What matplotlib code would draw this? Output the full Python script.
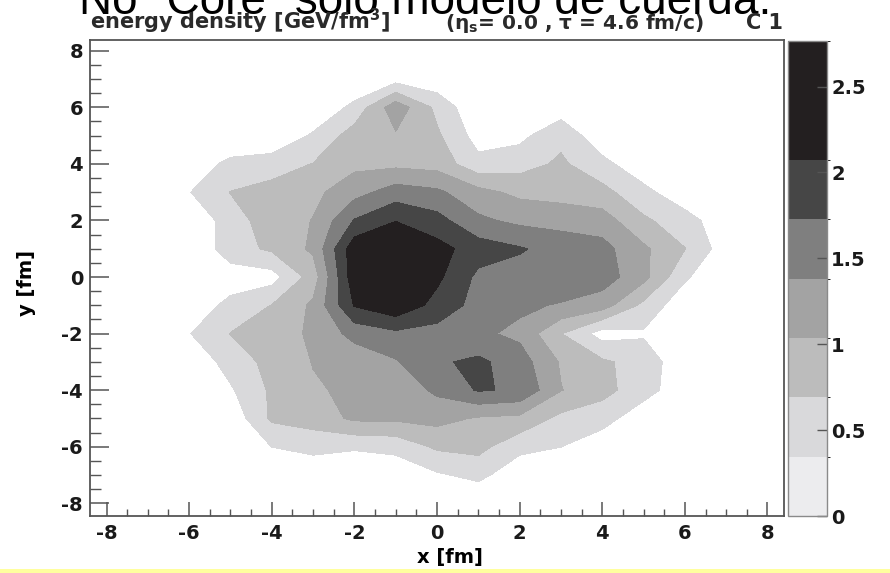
import numpy as np
import matplotlib
matplotlib.use("Agg")
import matplotlib.pyplot as plt
import matplotlib.cm as cm
from matplotlib.colors import ListedColormap, BoundaryNorm
from matplotlib.ticker import MultipleLocator

# grid of the map in fm; rows are listed from y = 8 (top) down to y = -8
x_fm = np.arange(-8, 9)
y_fm = np.arange(8, -9, -1)

# energy density [GeV/fm^3], one row per y value (x = -8 ... 8)
row_p8 = [0, 0, 0, 0, 0, 0, 0, 0, 0, 0, 0, 0, 0, 0, 0, 0, 0]
row_p7 = [0, 0, 0, 0, 0, 0, 0, .2, .1, 0, 0, 0, 0, 0, 0, 0, 0]
row_p6 = [0, 0, 0, 0, 0, 0, .45, 1.25, .6, .05, 0, .15, 0, 0, 0, 0, 0]
row_p5 = [0, 0, 0, 0, 0, .4, .85, 1.0, .75, .2, .25, .6, .1, 0, 0, 0, 0]
row_p4 = [0, 0, .1, .45, .55, .7, .95, .95, .9, .45, .55, .75, .45, .1, 0, 0, 0]
row_p3 = [0, 0, .33, .7, .8, .95, 1.25, 1.55, 1.45, 1.15, .95, .9, .8, .45, .1, 0, 0]
row_p2 = [0, 0, 0, .55, .85, 1.05, 1.75, 2.05, 1.85, 1.45, 1.3, 1.25, 1.2, .75, .5, .1, 0]
row_p1 = [0, 0, 0, .55, .75, 1.1, 2.3, 2.76, 2.2, 1.9, 1.76, 1.6, 1.5, 1.1, .7, .15, 0]
row_00 = [0, 0, 0, .15, .2, .85, 2.3, 2.7, 2.15, 1.65, 1.6, 1.65, 1.55, 1.15, .4, 0, 0]
row_m1 = [0, 0, .1, .45, .7, 1.1, 2.1, 2.35, 1.95, 1.6, 1.45, 1.35, 1.2, .6, .1, 0, 0]
row_m2 = [0, 0, .33, .7, .85, 1.1, 1.5, 1.65, 1.6, 1.45, 1.3, .7, .2, .3, .05, 0, 0]
row_m3 = [0, 0, .05, .5, .8, 1.05, 1.15, 1.35, 1.68, 1.8, 1.55, 1.0, .75, .55, .1, 0, 0]
row_m4 = [0, 0, 0, .3, .75, 1.0, 1.1, 1.15, 1.45, 1.76, 1.68, 1.05, .8, .5, .1, 0, 0]
row_m5 = [0, 0, 0, .1, .75, .85, 1.1, 1.1, 1.15, 1.0, .95, .6, .5, .1, 0, 0, 0]
row_m6 = [0, 0, 0, 0, .35, .45, .4, .45, .75, .8, .45, .35, .1, 0, 0, 0, 0]
row_m7 = [0, 0, 0, 0, 0, .1, 0, .1, .3, .45, .1, 0, 0, 0, 0, 0, 0]
row_m8 = [0, 0, 0, 0, 0, 0, 0, 0, 0, 0, 0, 0, 0, 0, 0, 0, 0]

energy = np.array([row_p8, row_p7, row_p6, row_p5, row_p4, row_p3, row_p2, row_p1, row_00,
                   row_m1, row_m2, row_m3, row_m4, row_m5, row_m6, row_m7, row_m8])

# contour levels and grey shades (as in the colour scale)
levels = [0, 0.3456, 0.6912, 1.0368, 1.3824, 1.728, 2.0736, 2.765]
shades = ['#ececee', '#d9d9db', '#bcbcbc', '#a3a3a3', '#7f7f7f', '#464646', '#231f20']
cbar_ticks = [0, 0.5, 1, 1.5, 2, 2.5]
axis_ticks = [-8, -6, -4, -2, 0, 2, 4, 6, 8]

W, H = 890, 573
fig = plt.figure(figsize=(W / 100, H / 100), dpi=100)
fig.patch.set_facecolor('white')

ax = fig.add_axes([90 / W, 1 - 516 / H, (784 - 90) / W, (516 - 40) / H])
cax = fig.add_axes([788 / W, 1 - 516 / H, (827 - 788) / W, (516 - 41) / H])

# lowest band is not filled, like in the original
ax.contourf(x_fm, y_fm, energy, levels=levels[1:], colors=shades[1:])
ax.set_xlim(-8.4, 8.4)
ax.set_ylim(-8.45, 8.38)

frame_col = '#555555'
for sp in ax.spines.values():
    sp.set_color(frame_col)
    sp.set_linewidth(1.3)
ax.set_xticks(axis_ticks)
ax.set_yticks(axis_ticks)
ax.xaxis.set_minor_locator(MultipleLocator(0.5))
ax.yaxis.set_minor_locator(MultipleLocator(0.5))
ax.tick_params(axis='x', which='major', direction='in', length=10, width=1.1, color=frame_col, pad=6)
ax.tick_params(axis='x', which='minor', direction='in', length=5, width=1.0, color=frame_col)
ax.tick_params(axis='y', which='major', direction='in', length=14, width=1.1, color=frame_col, pad=5)
ax.tick_params(axis='y', which='minor', direction='in', length=8, width=1.0, color=frame_col)
ax.set_xticklabels([str(t) for t in axis_ticks], fontsize=14, fontweight='bold', color='#1a1a1a')
ax.set_yticklabels([str(t) for t in axis_ticks], fontsize=14, fontweight='bold', color='#1a1a1a')
ax.set_xlabel('x [fm]', fontsize=14, fontweight='bold')
ax.xaxis.set_label_coords((450 - 90) / 694, -(548 - 516) / 476)
ax.set_ylabel('y [fm]', fontsize=14, fontweight='bold')
ax.yaxis.set_label_coords(-(90 - 36) / 694, 0.49)

# colour scale
sm = cm.ScalarMappable(norm=BoundaryNorm(levels, len(shades)), cmap=ListedColormap(shades))
cb = fig.colorbar(sm, cax=cax, ticks=cbar_ticks, spacing='proportional')
cb.outline.set_edgecolor('#8a8a8a')
cb.outline.set_linewidth(1.0)
cax.tick_params(direction='in', length=7, width=1.0, color='#555555', labelsize=14, pad=3)
cax.set_yticklabels(['0', '0.5', '1', '1.5', '2', '2.5'], fontweight='bold', color='#1a1a1a')

# titles
fig.text(425 / W, 1 - 14 / H, 'No "Core" solo modelo de cuerda.', fontsize=33,
         family='Liberation Sans', ha='center', va='baseline', color='black')
fig.text(90 / W, 1 - 29 / H, r'energy density [GeV/fm$^{\mathbf{3}}$]', fontsize=15,
         fontweight='bold', ha='left', va='baseline', color='#2a2a2a')
fig.text(445 / W, 1 - 29 / H, r'(η$_{\mathbf{s}}$= 0.0 , τ = 4.6 fm/c)', fontsize=14.5,
         fontweight='bold', ha='left', va='baseline', color='#2a2a2a')
fig.text(783 / W, 1 - 29 / H, 'C 1', fontsize=15,
         fontweight='bold', ha='right', va='baseline', color='#2a2a2a')

# thin yellow strip along the bottom edge
fig.patches.append(plt.Rectangle((0, 0), 1, 4 / H, transform=fig.transFigure,
                                 facecolor='#ffff9e', edgecolor='none'))

fig.savefig('out.png', dpi=100)
